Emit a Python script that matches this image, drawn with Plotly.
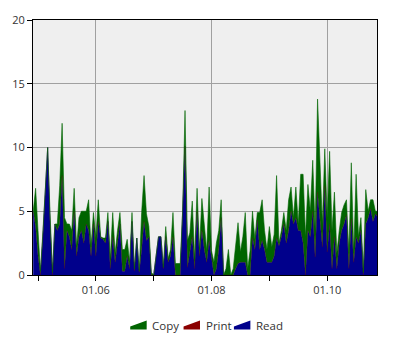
import pandas as pd
import plotly.graph_objects as go

start_time = "2024-01-04 22:00"

read = [5, 3.8, 1.5, 0, 3, 6.5, 10, 4, 0, 4, 3.5, 4, 7.8, 0.5, 3.5, 3, 2, 5, 1.5, 3,
        3.5, 2.5, 4, 3.5, 1.5, 4, 1.5, 4.2, 2.9, 2.8, 2.5, 4.2, 0.5, 3, 1, 2.5, 4, 0.3, 0.3, 1.5,
        0.5, 4.2, 0.3, 2.9, 0.2, 2, 4.2, 2.7, 3, 0, 0, 1.5, 3, 3, 0.5, 3, 1, 1.5, 3, 0,
        0, 0, 4.9, 10.1, 0.6, 2, 3, 0.5, 5, 1.5, 3.5, 2, 1, 2.7, 1.2, 0, 0.5, 2, 4.5, 0,
        0, 0, 0, 0, 0.5, 0.9, 1, 1, 1, 0, 0, 2.9, 2, 4.3, 2, 2.7, 2, 1, 1, 1,
        1.5, 2.9, 2.3, 3, 4, 2.5, 3.5, 5, 4, 4.5, 3.5, 3.5, 2.5, 0, 3.5, 3, 5, 1.4, 6.5, 4,
        2.2, 7, 1.8, 4, 0.5, 3, 0.5, 2.5, 3.5, 4, 4.7, 0.5, 4.4, 1, 3, 2.5, 3.5, 0, 4, 4.5,
        5.2, 4.2, 4.8, 4.5]

copy = [0, 3.0, 2.0, 0.3, 0.3, 0.3, 0, 0.8, 0.2, 0, 0.5, 3, 4.1, 4.0, 0.5, 1, 1.5, 1.8, 0.7, 1.5,
        1.5, 2.5, 1, 2.4, 0.7, 0.9, 1.4, 1.7, 0.1, 0.1, 0.4, 0.7, 0.8, 1.9, 0.7, 1, 0.9, 1.7, 1.7, 1.3,
        0.5, 0.7, 0.2, 0, 0.1, 2.9, 3.6, 2.1, 0.8, 0.2, 0, 0, 0, 0, 0.1, 0.8, 0.3, 0.5, 1.9, 0.9,
        0.9, 0.9, 0.1, 2.8, 2.1, 1.3, 2.8, 0.8, 1.8, 0.5, 2.5, 2.1, 0.9, 4.2, 0.7, 1, 2, 1.5, 1.4, 0,
        0.5, 2, 0, 0.5, 2, 3.2, 0.8, 2, 3.9, 0.5, 1.9, 2.1, 0.8, 0.6, 2.9, 3.2, 1.5, 1, 2.8, 1.2,
        1.7, 4.9, 0.2, 0.5, 0.9, 1, 2.4, 1.9, 0.5, 2.4, 0.5, 4.4, 5.4, 3, 3.6, 2, 4, 2.1, 7.3, 5.2,
        1.8, 2.9, 2.7, 5.7, 3, 3.5, 1.2, 1, 1.4, 1.5, 1.2, 1.2, 4.4, 0.7, 4.9, 0.5, 1, 0.2, 2.7, 0.5,
        0.7, 1.7, 0.2, 0.5]

print_ = [0] * len(read)

times = pd.date_range(start_time, periods=len(read), freq="h")

major_ticks = ["2024-01-06", "2024-01-08", "2024-01-10"]
major_labels = ["01.06", "01.08", "01.10"]
minor_ticks = ["2024-01-05", "2024-01-07", "2024-01-09"]
y_ticks = [0, 5, 10, 15, 20]

legend_names = ["Copy", "Print", "Read"]
legend_colors = ["#006400", "#8B0000", "#00008B"]

fig = go.Figure()
fig.add_trace(go.Scatter(x=times, y=read, name="Read", mode="lines", stackgroup="one",
                         line=dict(color="#00008B", width=0.6), fillcolor="#00008B"))
fig.add_trace(go.Scatter(x=times, y=print_, name="Print", mode="lines", stackgroup="one",
                         line=dict(color="rgba(139,0,0,0.35)", width=0.6), fillcolor="#8B0000"))
fig.add_trace(go.Scatter(x=times, y=copy, name="Copy", mode="lines", stackgroup="one",
                         line=dict(color="#006400", width=0.6), fillcolor="#006400"))

axis_font = dict(family="Open Sans, Noto Sans, sans-serif", size=11, color="#333333")

# pixel helpers for the custom legend (plot area: x 32..377, y 15..275)
L, R, T, B = 32, 377, 15, 275
def px(x):
    return (x - L) / (R - L)
def py(y):
    return (B - y) / (B - T)

shapes = []
annotations = []
icon_left = [129.5, 183, 233.5]
for name, color, x0 in zip(legend_names, legend_colors, icon_left):
    x1 = x0 + 16.5
    path = (f"M {px(x0)},{py(330.5)} L {px(x1)},{py(330.5)} "
            f"L {px(x1)},{py(321.5)} L {px(x0)},{py(327.5)} Z")
    shapes.append(dict(type="path", xref="paper", yref="paper", path=path,
                       fillcolor=color, line=dict(width=0), layer="above"))
    annotations.append(dict(text=name, xref="paper", yref="paper", x=px(x1 + 3.5), y=py(326.5),
                            xanchor="left", yanchor="middle", showarrow=False,
                            font=dict(family="Open Sans, Noto Sans, sans-serif", size=11.5,
                                      color="#333333")))

fig.update_layout(
    width=400, height=350,
    margin=dict(l=32, r=23, t=15, b=75),
    paper_bgcolor="white",
    plot_bgcolor="#efefef",
    showlegend=False,
    shapes=shapes,
    annotations=annotations,
    xaxis=dict(
        range=["2024-01-04 21:55", "2024-01-10 20:40"],
        tickmode="array", tickvals=major_ticks, ticktext=major_labels,
        ticks="outside", ticklen=5, tickcolor="black",
        showgrid=True, gridcolor="#a0a0a0", gridwidth=1,
        showline=True, linecolor="black", linewidth=1, mirror=True,
        tickfont=axis_font, zeroline=False,
        minor=dict(tickvals=minor_ticks, ticks="outside", ticklen=5, tickcolor="black", showgrid=False),
    ),
    yaxis=dict(
        range=[0, 20], tickmode="array", tickvals=y_ticks,
        ticks="outside", ticklen=5, tickcolor="black",
        showgrid=True, gridcolor="#a0a0a0", gridwidth=1,
        showline=True, linecolor="black", linewidth=1, mirror=True,
        tickfont=axis_font, zeroline=False,
    ),
)

fig.write_html("out.html")
